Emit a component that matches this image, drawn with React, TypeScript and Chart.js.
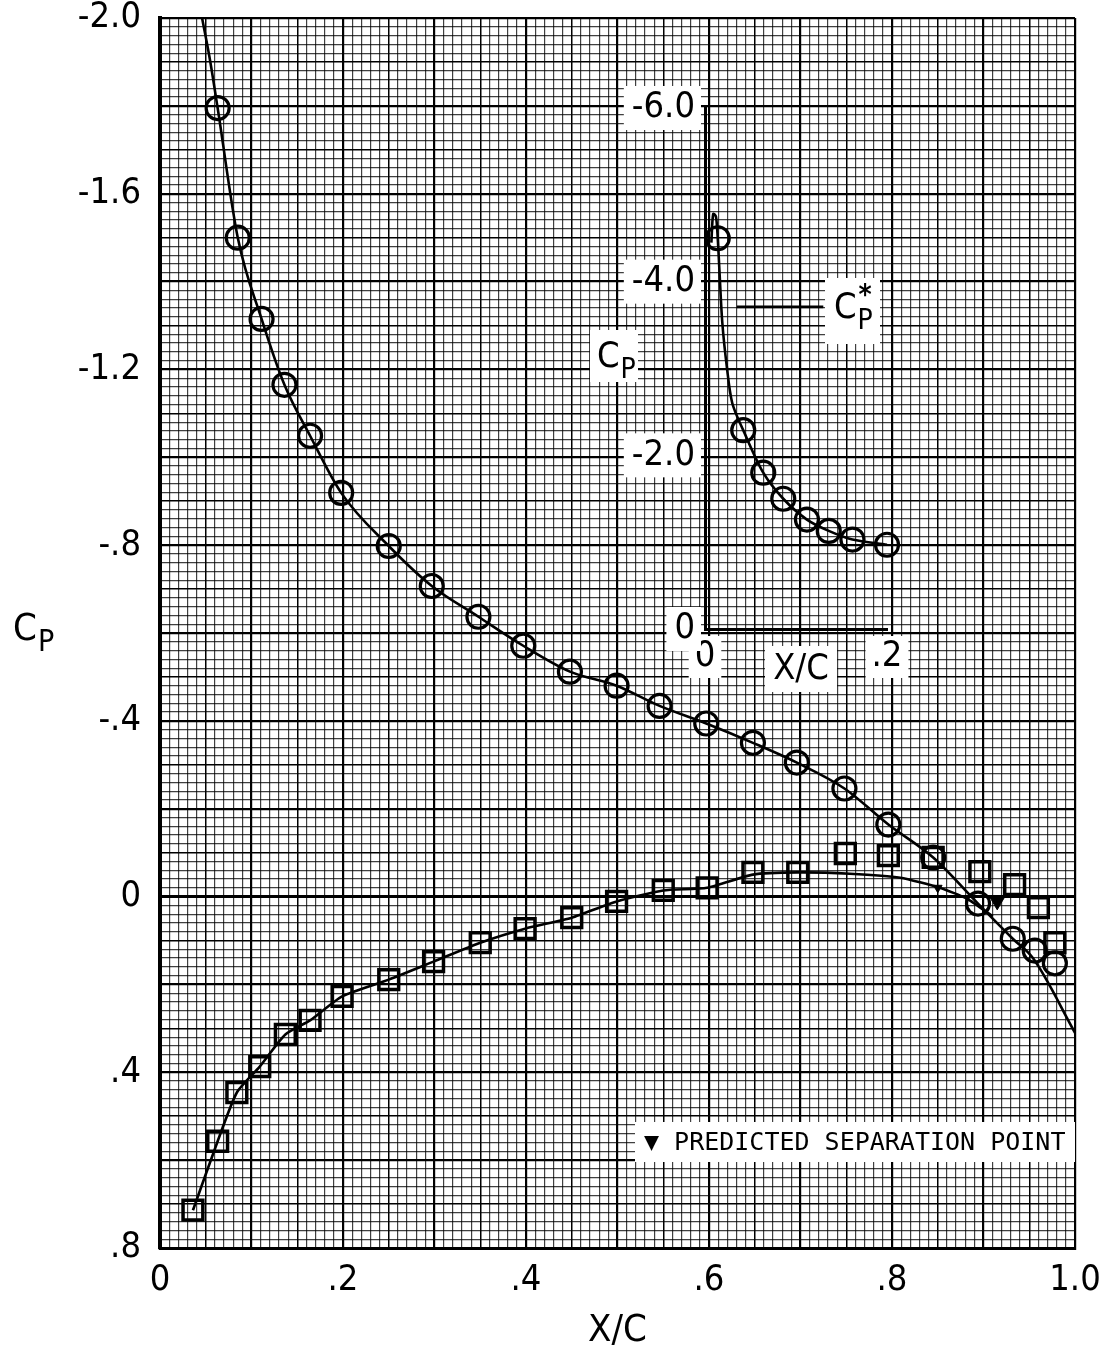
import React, { useEffect, useRef } from 'react';
import { Chart, registerables } from 'chart.js';

Chart.register(...registerables);

const FONT = "'Liberation Sans Narrow', 'DejaVu Sans Condensed', 'DejaVu Sans', sans-serif";
const MONO = "'DejaVu Sans Mono', 'Liberation Mono', monospace";

// ---------- main chart data ----------
const xTickValues = [0, 0.2, 0.4, 0.6, 0.8, 1.0];
const xTickLabels = ['0', '.2', '.4', '.6', '.8', '1.0'];
const yTickValues = [-2.0, -1.6, -1.2, -0.8, -0.4, 0, 0.4, 0.8];
const yTickLabels = ['-2.0', '-1.6', '-1.2', '-.8', '-.4', '0', '.4', '.8'];

// upper surface (circles)
const upperX = [0.063, 0.085, 0.111, 0.136, 0.164, 0.198, 0.250, 0.297, 0.348, 0.397, 0.448, 0.499, 0.546, 0.597, 0.648, 0.696, 0.748, 0.796, 0.845, 0.894, 0.932, 0.956, 0.978];
const upperY = [-1.795, -1.50, -1.315, -1.165, -1.049, -0.919, -0.798, -0.707, -0.637, -0.571, -0.512, -0.480, -0.434, -0.394, -0.350, -0.305, -0.246, -0.164, -0.089, 0.016, 0.096, 0.123, 0.152];

// lower surface (squares)
const lowerX = [0.036, 0.063, 0.084, 0.109, 0.137, 0.164, 0.199, 0.250, 0.299, 0.350, 0.399, 0.450, 0.499, 0.550, 0.598, 0.648, 0.697, 0.749, 0.796, 0.845, 0.896, 0.934, 0.960, 0.978];
const lowerY = [0.714, 0.557, 0.446, 0.387, 0.314, 0.282, 0.227, 0.189, 0.148, 0.105, 0.073, 0.048, 0.011, -0.014, -0.020, -0.055, -0.055, -0.098, -0.093, -0.089, -0.057, -0.027, 0.025, 0.105];

// faired curves
const upperCurveX = [0.046, 0.055, 0.063, 0.085, 0.111, 0.136, 0.164, 0.198, 0.250, 0.297, 0.348, 0.397, 0.448, 0.499, 0.546, 0.597, 0.648, 0.696, 0.748, 0.796, 0.845, 0.894, 0.932, 0.954, 1.0];
const upperCurveY = [-2.0, -1.90, -1.795, -1.50, -1.315, -1.165, -1.049, -0.919, -0.798, -0.707, -0.637, -0.571, -0.512, -0.480, -0.434, -0.394, -0.350, -0.305, -0.246, -0.164, -0.089, 0.016, 0.096, 0.14, 0.31];
const lowerCurveX = [0.036, 0.063, 0.084, 0.109, 0.137, 0.164, 0.199, 0.250, 0.299, 0.350, 0.399, 0.450, 0.499, 0.550, 0.598, 0.648, 0.697, 0.754, 0.809, 0.852, 0.882, 0.910];
const lowerCurveY = [0.714, 0.557, 0.446, 0.387, 0.314, 0.282, 0.227, 0.189, 0.148, 0.105, 0.073, 0.048, 0.011, -0.014, -0.020, -0.050, -0.055, -0.052, -0.043, -0.020, 0.005, 0.045];

// predicted separation points
const sepX = [0.915, 0.850];
const sepY = [0.012, -0.020];
const sepSize = [8, 5];

// ---------- inset data ----------
const insetXTickValues = [0, 0.2];
const insetXTickLabels = ['0', '.2'];
const insetYTickValues = [-6, -4, -2, 0];
const insetYTickLabels = ['-6.0', '-4.0', '-2.0', '0'];
const insetX = [0.014, 0.042, 0.064, 0.086, 0.112, 0.136, 0.162, 0.200];
const insetY = [-4.50, -2.29, -1.80, -1.50, -1.26, -1.13, -1.03, -0.97];
const insetCurveX = [0.007, 0.009, 0.012, 0.014, 0.016, 0.019, 0.024, 0.030, 0.042, 0.064, 0.086, 0.112, 0.136, 0.162, 0.200];
const insetCurveY = [-4.45, -4.78, -4.75, -4.50, -4.10, -3.53, -3.02, -2.60, -2.29, -1.80, -1.50, -1.26, -1.13, -1.03, -0.97];
const cpStarX = [0.035, 0.130];
const cpStarY = [-3.71, -3.71];

const pts = (xs: number[], ys: number[]) => xs.map((x, i) => ({ x, y: ys[i] }));
const labelFor = (vals: number[], labels: string[]) => (v: any) => {
  const n = Number(v);
  const i = vals.findIndex((t) => Math.abs(t - n) < 1e-6);
  return i >= 0 ? labels[i] : '';
};

function drawCp(ctx: CanvasRenderingContext2D, x: number, y: number, size: number, star: boolean) {
  ctx.textAlign = 'left';
  ctx.textBaseline = 'alphabetic';
  ctx.fillStyle = '#000';
  ctx.font = `${size}px ${FONT}`;
  ctx.fillText('C', x, y);
  const w = ctx.measureText('C').width;
  const s2 = Math.round(size * 0.78);
  ctx.font = `${s2}px ${FONT}`;
  ctx.fillText('P', x + w + 1, y + size * 0.3);
  if (star) {
    ctx.font = `bold ${s2}px ${FONT}`;
    ctx.fillText('*', x + w + 2, y - size * 0.38);
  }
}

const mainDecor = {
  id: 'mainDecor',
  afterDraw(chart: any) {
    const ctx = chart.ctx as CanvasRenderingContext2D;
    const area = chart.chartArea;
    ctx.save();
    drawCp(ctx, 13, 640, 38, false);
    // legend box
    const bx = 635, by = 1122, bw = area.right - 635, bh = 40;
    ctx.fillStyle = '#fff';
    ctx.fillRect(bx, by, bw, bh);
    ctx.fillStyle = '#000';
    ctx.font = `25px ${MONO}`;
    ctx.textAlign = 'left';
    ctx.textBaseline = 'middle';
    ctx.fillText('\u25BC PREDICTED SEPARATION POINT', 644, by + bh / 2 + 1);
    ctx.restore();
  },
};

const insetDecor = {
  id: 'insetDecor',
  afterDraw(chart: any) {
    const ctx = chart.ctx as CanvasRenderingContext2D;
    ctx.save();
    ctx.fillStyle = '#fff';
    ctx.fillRect(30, 250, 48, 52); // Cp box
    ctx.fillRect(205, 566, 72, 46); // X/C box
    ctx.fillRect(265, 198, 55, 66); // Cp* box
    drawCp(ctx, 37, 287, 36, false);
    drawCp(ctx, 274, 238, 36, true);
    ctx.fillStyle = '#000';
    ctx.font = `36px ${FONT}`;
    ctx.textAlign = 'center';
    ctx.textBaseline = 'middle';
    ctx.fillText('X/C', 241, 590);
    ctx.restore();
  },
};

function gridX(ctx: any) {
  const k = Math.round((ctx.tick?.value ?? 0) * 100);
  if (k % 10 === 0) return 2.2;
  if (k % 5 === 0) return 1.5;
  return 1.2;
}
function gridXColor(ctx: any) {
  const k = Math.round((ctx.tick?.value ?? 0) * 100);
  if (k % 5 === 0) return '#000';
  return 'rgba(0,0,0,0.75)';
}
function gridY(ctx: any) {
  const k = Math.round((ctx.tick?.value ?? 0) * 100);
  if (k === 0) return 3;
  if (k % 20 === 0) return 2.2;
  if (k % 10 === 0) return 1.5;
  return 1.2;
}
function gridYColor(ctx: any) {
  const k = Math.round((ctx.tick?.value ?? 0) * 100);
  if (k % 10 === 0) return '#000';
  return 'rgba(0,0,0,0.75)';
}

const fixHoriz = (h: number) => (s: any) => {
  s.height = h;
  s.paddingLeft = 0;
  s.paddingRight = 0;
};
const fixVert = (w: number) => (s: any) => {
  s.width = w;
  s.paddingTop = 0;
  s.paddingBottom = 0;
};

export default function App() {
  const mainRef = useRef<HTMLCanvasElement>(null);
  const insetRef = useRef<HTMLCanvasElement>(null);

  useEffect(() => {
    const main = new Chart(mainRef.current!, {
      type: 'scatter',
      data: {
        datasets: [
          {
            data: pts(sepX, sepY),
            pointStyle: 'triangle',
            pointRotation: 180,
            pointRadius: sepSize,
            backgroundColor: '#000',
            borderColor: '#000',
            borderWidth: 1,
            showLine: false,
          } as any,
          {
            data: pts(upperX, upperY),
            pointStyle: 'circle',
            pointRadius: 11.5,
            borderWidth: 3.2,
            borderColor: '#000',
            backgroundColor: 'rgba(0,0,0,0)',
            showLine: false,
            clip: false,
          } as any,
          {
            data: pts(lowerX, lowerY),
            pointStyle: 'rect',
            pointRadius: 14,
            borderWidth: 3.5,
            borderColor: '#000',
            backgroundColor: 'rgba(0,0,0,0)',
            showLine: false,
            clip: false,
          } as any,
          {
            data: pts(upperCurveX, upperCurveY),
            showLine: true,
            pointRadius: 0,
            borderColor: '#000',
            borderWidth: 2.6,
            cubicInterpolationMode: 'monotone',
          } as any,
          {
            data: pts(lowerCurveX, lowerCurveY),
            showLine: true,
            pointRadius: 0,
            borderColor: '#000',
            borderWidth: 2.6,
            tension: 0.2,
          },
        ],
      },
      options: {
        animation: false,
        responsive: false,
        maintainAspectRatio: false,
        events: [],
        layout: { padding: { top: 18, right: 31, left: 0, bottom: 0 } },
        plugins: { legend: { display: false }, tooltip: { enabled: false } },
        scales: {
          x: {
            type: 'linear',
            min: 0,
            max: 1,
            afterFit: fixHoriz(97),
            ticks: {
              stepSize: 0.01,
              autoSkip: false,
              maxRotation: 0,
              minRotation: 0,
              padding: 15,
              color: '#000',
              font: { family: FONT, size: 36, lineHeight: 1 },
              callback: labelFor(xTickValues, xTickLabels),
            },
            grid: { drawTicks: false, color: gridXColor, lineWidth: gridX },
            border: { display: true, color: '#000', width: 3 },
            title: {
              display: true,
              text: 'X/C',
              color: '#000',
              font: { family: FONT, size: 38, lineHeight: 1 },
              padding: { top: 0, bottom: -5 },
            },
          },
          y: {
            type: 'linear',
            min: -2.0,
            max: 0.8,
            reverse: true,
            afterFit: fixVert(160),
            ticks: {
              stepSize: 0.02,
              autoSkip: false,
              padding: 19,
              color: '#000',
              font: { family: FONT, size: 36, lineHeight: 1 },
              callback: labelFor(yTickValues, yTickLabels),
            },
            grid: { drawTicks: false, color: gridYColor, lineWidth: gridY },
            border: { display: true, color: '#000', width: 4 },
          },
        },
      } as any,
      plugins: [mainDecor],
    });

    const inset = new Chart(insetRef.current!, {
      type: 'scatter',
      data: {
        datasets: [
          {
            data: pts(insetX, insetY),
            pointStyle: 'circle',
            pointRadius: 11.5,
            borderWidth: 3.2,
            borderColor: '#000',
            backgroundColor: 'rgba(0,0,0,0)',
            showLine: false,
            clip: false,
          } as any,
          {
            data: pts(insetCurveX, insetCurveY),
            showLine: true,
            pointRadius: 0,
            borderColor: '#000',
            borderWidth: 2.6,
            tension: 0.3,
            clip: false,
          } as any,
          {
            data: pts(cpStarX, cpStarY),
            showLine: true,
            pointRadius: 0,
            borderColor: '#000',
            borderWidth: 2.6,
          },
        ],
      },
      options: {
        animation: false,
        responsive: false,
        maintainAspectRatio: false,
        events: [],
        layout: { padding: { top: 28, right: 33, left: 0, bottom: 0 } },
        plugins: { legend: { display: false }, tooltip: { enabled: false } },
        scales: {
          x: {
            type: 'linear',
            min: 0,
            max: 0.2,
            afterFit: fixHoriz(71),
            ticks: {
              stepSize: 0.2,
              autoSkip: false,
              maxRotation: 0,
              minRotation: 0,
              padding: 10,
              color: '#000',
              font: { family: FONT, size: 36, lineHeight: 1 },
              showLabelBackdrop: true,
              backdropColor: '#fff',
              backdropPadding: { top: 3, bottom: 3, left: 6, right: 6 },
              callback: labelFor(insetXTickValues, insetXTickLabels),
            },
            grid: { display: true, drawOnChartArea: false, drawTicks: false, color: 'rgba(0,0,0,0)' },
            border: { display: true, color: '#000', width: 3 },
          },
          y: {
            type: 'linear',
            min: -6,
            max: 0,
            reverse: true,
            afterFit: fixVert(145),
            ticks: {
              stepSize: 2,
              autoSkip: false,
              padding: 10,
              color: '#000',
              font: { family: FONT, size: 36, lineHeight: 1 },
              showLabelBackdrop: true,
              backdropColor: '#fff',
              backdropPadding: { top: 4, bottom: 4, left: 8, right: 6 },
              callback: labelFor(insetYTickValues, insetYTickLabels),
            },
            grid: { display: true, drawOnChartArea: false, drawTicks: false, color: 'rgba(0,0,0,0)' },
            border: { display: true, color: '#000', width: 3 },
          },
        },
      } as any,
      plugins: [insetDecor],
    });

    return () => {
      main.destroy();
      inset.destroy();
    };
  }, []);

  return (
    <div style={{ position: 'absolute', left: 0, top: 0, width: 1106, height: 1345, background: '#fff', overflow: 'hidden' }}>
      <canvas ref={mainRef} width={1106} height={1345} style={{ position: 'absolute', left: 0, top: 0, width: 1106, height: 1345 }} />
      <canvas ref={insetRef} width={360} height={620} style={{ position: 'absolute', left: 560, top: 80, width: 360, height: 620, pointerEvents: 'none' }} />
    </div>
  );
}
